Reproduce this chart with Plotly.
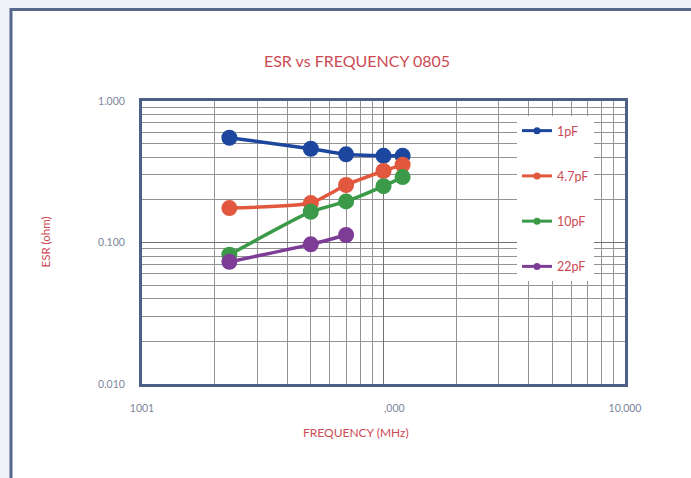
import plotly.graph_objects as go

# Measurement data: ESR (ohm) vs frequency (MHz) for 0805 capacitors
freq_mhz = [230, 500, 700, 1000, 1200]
freq_22pf = [230, 500, 700]
esr_1pf = [0.55, 0.46, 0.42, 0.41, 0.41]
esr_4p7pf = [0.175, 0.19, 0.255, 0.32, 0.355]
esr_10pf = [0.082, 0.165, 0.195, 0.25, 0.29]
esr_22pf = [0.073, 0.097, 0.113]

series_names = ["1pF", "4.7pF", "10pF", "22pF"]
series_colors = ["#1d479e", "#e2583f", "#3a9a48", "#7d3d97"]
series_x = [freq_mhz, freq_mhz, freq_mhz, freq_22pf]
series_y = [esr_1pf, esr_4p7pf, esr_10pf, esr_22pf]

x_tickvals = [100, 1000, 10000]
x_ticktext = ["1001", "\u00a0" * 8 + ",000", "10,000"]
y_tickvals = [0.01, 0.1, 1]
y_ticktext = ["0.010", "0.100", "1.000"]

title_text = "ESR vs FREQUENCY 0805"
x_title = "FREQUENCY (MHz)"
y_title = "ESR (ohm)"

RED_TEXT = "#cc4b55"
TICK_TEXT = "#7b879c"
FRAME = "#56678a"
GRID = "#939393"
GRID_MAJOR = "#737373"

W, H = 691, 478
ML, MR, MT, MB = 142, 66, 101, 94
PW, PH = W - ML - MR, H - MT - MB


def px_x(p):
    return (p - ML) / PW


def px_y(p):
    return (H - MB - p) / PH


fig = go.Figure()

for name, color, xs, ys in zip(series_names, series_colors, series_x, series_y):
    fig.add_trace(go.Scatter(
        x=xs, y=ys, mode="lines+markers", name=name, showlegend=False,
        line=dict(color=color, width=3.5, shape="spline", smoothing=0.5),
        marker=dict(color=color, size=16),
    ))

# Legend entries with small markers
for i, (name, color) in enumerate(zip(series_names, series_colors)):
    fig.add_trace(go.Scatter(
        x=[None], y=[None], mode="lines+markers", name=name,
        legendgroup=f"g{i}", showlegend=True,
        line=dict(color=color, width=3),
        marker=dict(color=color, size=7),
    ))

# White panel with slate border
fig.add_shape(
    type="rect", xref="paper", yref="paper",
    x0=px_x(11), x1=px_x(720), y0=px_y(500), y1=px_y(9.5),
    line=dict(color=FRAME, width=3), fillcolor="white", layer="below",
)

axis_common = dict(
    type="log", showline=True, mirror=True, linewidth=3, linecolor="#4d5f84",
    showgrid=True, gridcolor=GRID_MAJOR, gridwidth=1, zeroline=False,
    ticks="", ticklabelstandoff=12,
    tickfont=dict(family="Lato", size=10.5, color=TICK_TEXT),
    minor=dict(dtick="D1", showgrid=True, gridcolor=GRID, gridwidth=1, ticks=""),
)

fig.update_xaxes(range=[2, 4], tickmode="array", tickvals=x_tickvals,
                 ticktext=x_ticktext, **axis_common)
fig.update_yaxes(range=[-2, 0], tickmode="array", tickvals=y_tickvals,
                 ticktext=y_ticktext, **axis_common)

fig.add_annotation(text=x_title, xref="paper", yref="paper",
                   x=px_x(356), y=px_y(442), showarrow=False,
                   font=dict(family="Lato", size=12, color=RED_TEXT))
fig.add_annotation(text=y_title, xref="paper", yref="paper",
                   x=px_x(36), y=px_y(242), showarrow=False, textangle=-90,
                   font=dict(family="Lato", size=11.5, color=RED_TEXT))

fig.update_layout(
    width=W, height=H,
    margin=dict(l=ML, r=MR, t=MT, b=MB),
    paper_bgcolor="#eef1f5", plot_bgcolor="white",
    title=dict(text=title_text, xref="container", yref="container",
               x=357 / W, y=1 - 61 / H, xanchor="center", yanchor="middle",
               font=dict(family="Lato", size=16, color=RED_TEXT)),
    legend=dict(x=px_x(517), y=px_y(116), xanchor="left", yanchor="top",
                bgcolor="white", borderwidth=0, tracegroupgap=26,
                font=dict(family="Lato", size=12.5, color=RED_TEXT),
                itemwidth=30),
    showlegend=True,
)

fig.write_html("out.html")
